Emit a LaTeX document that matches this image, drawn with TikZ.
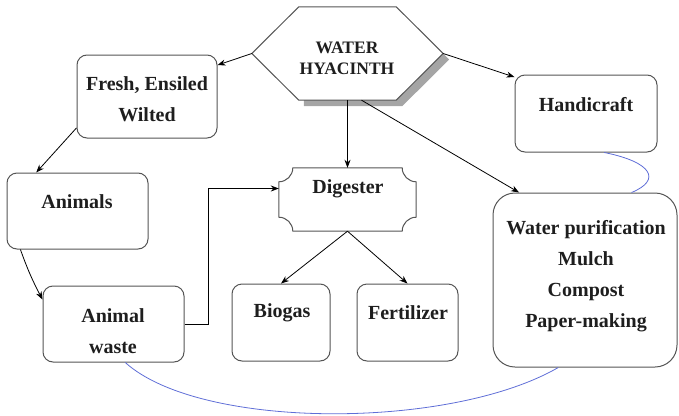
\documentclass[tikz,border=0pt]{standalone}
\usepackage{fontspec}
\setmainfont{Liberation Serif}
\usetikzlibrary{arrows.meta,calc}
\definecolor{boxgray}{RGB}{85,85,85}
\definecolor{bluecurve}{RGB}{95,110,215}
\definecolor{shadowgray}{RGB}{165,165,165}
\definecolor{txt}{RGB}{30,30,30}
\begin{document}
\begin{tikzpicture}[x=1pt,y=-1pt,
  box/.style={draw=boxgray, line width=1pt, rounded corners=10pt, inner sep=0pt},
  ghost/.style={draw=none, inner sep=0pt},
  boxline/.style={draw=boxgray, line width=1pt},
  lbl/.style={font=\bfseries\fontsize{20}{31}\selectfont, inner sep=0pt, text=txt, align=center},
  hexlbl/.style={font=\bfseries\fontsize{17.5}{21}\selectfont, inner sep=0pt, text=txt, align=center},
  arr/.style={-{Stealth[length=8pt,width=6pt]}, line width=0.8pt, draw=black},
  blueline/.style={draw=bluecurve, line width=0.8pt}]
\useasboundingbox (0,0) rectangle (679,415);

% hexagon
\node[ghost, minimum width=191pt, minimum height=93pt] (hex) at (347.5,53.5) {};
\fill[shadowgray] ([xshift=52pt,yshift=-6pt]hex.north west) -- ([xshift=-41pt,yshift=-6pt]hex.north east)
  -- ([xshift=6pt,yshift=-6pt]hex.east) -- ([xshift=-41pt,yshift=-6pt]hex.south east)
  -- ([xshift=52pt,yshift=-6pt]hex.south west) -- cycle;
\filldraw[boxline, fill=white] ([xshift=47pt]hex.north west) -- ([xshift=-47pt]hex.north east)
  -- (hex.east) -- ([xshift=-47pt]hex.south east) -- ([xshift=47pt]hex.south west) -- (hex.west) -- cycle;
\node[hexlbl] (hextext) at (347,58) {WATER\\HYACINTH};

% boxes
\node[box, minimum width=140pt, minimum height=83pt] (fresh) at (147,96.5) {};
\node[lbl] (freshtext) at (147,99) {Fresh, Ensiled\\Wilted};

\node[box, minimum width=142pt, minimum height=77pt] (hand) at (586,113.5) {};
\node[lbl] (handtext) at (586,105) {Handicraft};

\node[box, minimum width=141pt, minimum height=76pt] (animals) at (77.5,211) {};
\node[lbl] (animalstext) at (77,202) {Animals};

\node[box, minimum width=141pt, minimum height=76pt] (waste) at (113.5,324) {};
\node[lbl] (wastetext) at (113,331) {Animal\\waste};

\node[box, minimum width=98pt, minimum height=77pt] (biogas) at (281,322.5) {};
\node[lbl] (biogastext) at (282,313) {Biogas};

\node[box, minimum width=101pt, minimum height=77pt] (fert) at (407.5,322.5) {};
\node[lbl] (ferttext) at (408,313) {Fertilizer};

\node[box, rounded corners=22pt, minimum width=184pt, minimum height=174pt] (water) at (585,280) {};
\node[lbl] (watertext) at (586,276) {Water purification\\Mulch\\Compost\\Paper-making};

% digester (plaque)
\node[ghost, minimum width=137pt, minimum height=63pt] (dig) at (347.5,199.5) {};
\draw[boxline]
  ([xshift=14pt]dig.north west) -- ([xshift=-14pt]dig.north east)
  .. controls ([xshift=-14pt,yshift=-7.7pt]dig.north east) and ([xshift=-7.7pt,yshift=-14pt]dig.north east) .. ([yshift=-14pt]dig.north east)
  -- ([yshift=14pt]dig.south east)
  .. controls ([xshift=-7.7pt,yshift=14pt]dig.south east) and ([xshift=-14pt,yshift=7.7pt]dig.south east) .. ([xshift=-14pt]dig.south east)
  -- ([xshift=14pt]dig.south west)
  .. controls ([xshift=14pt,yshift=7.7pt]dig.south west) and ([xshift=7.7pt,yshift=14pt]dig.south west) .. ([yshift=14pt]dig.south west)
  -- ([yshift=-14pt]dig.north west)
  .. controls ([xshift=7.7pt,yshift=-14pt]dig.north west) and ([xshift=14pt,yshift=-7.7pt]dig.north west) .. cycle;
\node[lbl] (digtext) at (348,189) {Digester};

% arrows
\draw[arr] (hex.west) -- (fresh.24);
\draw[arr] (hex.east) -- (hand.153);
\draw[arr] (hex.south) -- (dig.north);
\draw[arr] ([xshift=14pt]hex.south) -- (water.127);
\draw[arr] (fresh.204) -- (animals.137);
\draw[arr] (animals.214) to[bend right=4] (waste.161);
\draw[arr] (waste.east) -- ++(24,0) |- ($(dig.west)+(0,-11)$);
\draw[arr] (dig.south) -- (biogas.north);
\draw[arr] (dig.south) -- (fert.north);

% blue curves
\draw[blueline] (hand.-65) .. controls (652,162) and (662,180) .. (water.62);
\draw[blueline] (waste.-73) .. controls (200,430) and (450,430) .. (water.-107);
\end{tikzpicture}
\end{document}
